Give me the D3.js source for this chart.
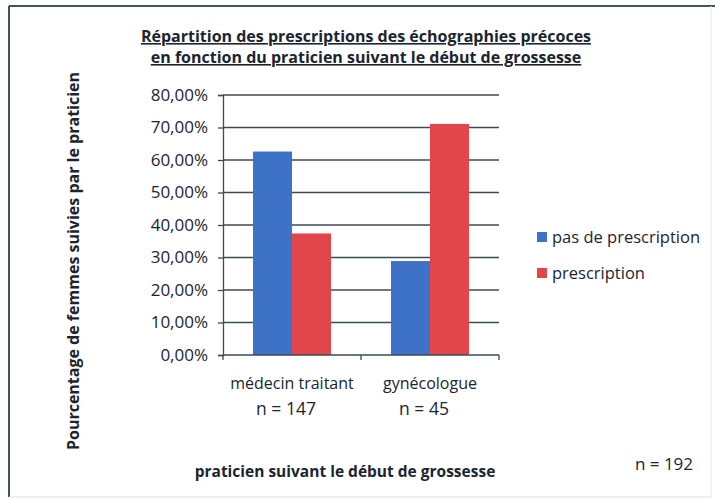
<!DOCTYPE html>
<html lang="fr">
<head>
	<meta charset="utf-8">
	<title>Répartition des prescriptions</title>
<style>
body {
	margin: 0;
	background: #fff;
}
text {
	font-family: "Open Sans", sans-serif;
	fill: #1b2530;
}
.title {
	font-size: 16px;
	font-weight: bold;
	text-decoration: underline;
}
.grid line {
	stroke: #3b4b57;
	stroke-width: 1.3px;
}
</style>
</head>
<body>
<div id="chart"></div>
<script src="https://d3js.org/d3.v7.min.js"></script>
<script>
	var categories = ["médecin traitant", "gynécologue"];
	var counts = ["n = 147", "n = 45"];
	var seriesNames = ["pas de prescription", "prescription"];
	var pasDePrescription = [62.6, 28.9];
	var prescription = [37.4, 71.1];
	var yTicks = [0, 10, 20, 30, 40, 50, 60, 70, 80];
	var colors = ["#3d72c6", "#e2464a"];

	var width = 715, height = 498;

	var svg = d3.select("#chart").append("svg")
		.attr("width", width)
		.attr("height", height);

	// frame
	svg.append("line").attr("x1", 9).attr("y1", 6).attr("x2", 9).attr("y2", 497)
		.attr("stroke", "#3e5560").attr("stroke-width", 2);
	svg.append("line").attr("x1", 9).attr("y1", 6).attr("x2", 715).attr("y2", 6)
		.attr("stroke", "#3e5560").attr("stroke-width", 2);
	svg.append("line").attr("x1", 711).attr("y1", 6).attr("x2", 711).attr("y2", 497)
		.attr("stroke", "#e4e4e4").attr("stroke-width", 1);
	svg.append("line").attr("x1", 9).attr("y1", 497).attr("x2", 711).attr("y2", 497)
		.attr("stroke", "#f0d8d0").attr("stroke-width", 1);

	// title
	svg.append("text").attr("class", "title").attr("x", 366).attr("y", 42)
		.attr("text-anchor", "middle")
		.text("Répartition des prescriptions des échographies  précoces ");
	svg.append("text").attr("class", "title").attr("x", 366).attr("y", 63)
		.attr("text-anchor", "middle")
		.text("en fonction du praticien suivant  le début de grossesse");

	var plotLeft = 223, plotRight = 499, plotTop = 95, plotBottom = 355;

	var y = d3.scaleLinear().domain([0, 80]).range([plotBottom, plotTop]);
	var x = d3.scaleBand().domain(categories).range([plotLeft, plotRight])
		.paddingInner(60 / 138).paddingOuter(30 / 138);
	var xs = d3.scaleBand().domain(seriesNames).range([0, x.bandwidth()]);

	// gridlines
	var grid = svg.append("g").attr("class", "grid");
	grid.selectAll("line").data(yTicks.slice(1)).enter().append("line")
		.attr("x1", plotLeft).attr("x2", plotRight)
		.attr("y1", function(d) { return y(d); })
		.attr("y2", function(d) { return y(d); });

	// y axis
	var yAxis = svg.append("g")
		.attr("transform", "translate(" + plotLeft + ",0)")
		.call(d3.axisLeft(y).tickValues(yTicks).tickSize(5).tickPadding(10)
			.tickFormat(function(d) { return d3.format(".2f")(d).replace(".", ",") + "%"; }));
	yAxis.select(".domain").attr("stroke", "#3b4b57").attr("stroke-width", 1.3);
	yAxis.selectAll(".tick line").attr("stroke", "#3b4b57").attr("stroke-width", 1.3);
	yAxis.selectAll("text").style("font-size", "17px").style("font-family", "'Open Sans', sans-serif").attr("fill", "#1b2530");

	// bars
	var data = categories.map(function(c, i) {
		return { cat: c, values: [pasDePrescription[i], prescription[i]] };
	});
	var groups = svg.selectAll(".group").data(data).enter().append("g")
		.attr("transform", function(d) { return "translate(" + x(d.cat) + ",0)"; });
	groups.selectAll("rect").data(function(d) { return d.values; }).enter().append("rect")
		.attr("x", function(d, i) { return xs(seriesNames[i]); })
		.attr("width", xs.bandwidth())
		.attr("y", function(d) { return y(d); })
		.attr("height", function(d) { return plotBottom - y(d); })
		.attr("fill", function(d, i) { return colors[i]; });

	// x axis line + boundary ticks
	svg.append("line").attr("x1", plotLeft).attr("x2", plotRight)
		.attr("y1", plotBottom).attr("y2", plotBottom)
		.attr("stroke", "#3b4b57").attr("stroke-width", 1.3);
	var bounds = [plotLeft].concat(categories.map(function(c) { return x(c) + x.bandwidth() + x.step() * x.paddingOuter(); }));
	svg.selectAll(".xtick").data(bounds).enter().append("line")
		.attr("x1", function(d) { return d; }).attr("x2", function(d) { return d; })
		.attr("y1", plotBottom).attr("y2", plotBottom + 5)
		.attr("stroke", "#3b4b57").attr("stroke-width", 1.3);

	// category labels
	svg.selectAll(".cat").data(categories).enter().append("text")
		.attr("x", function(d) { return x(d) + x.bandwidth() / 2; })
		.attr("y", 389)
		.attr("text-anchor", "middle")
		.style("font-size", "16px")
		.text(function(d) { return d; });
	svg.selectAll(".cnt").data(counts).enter().append("text")
		.attr("x", function(d, i) { return x(categories[i]) + x.bandwidth() / 2 - 6; })
		.attr("y", 415)
		.attr("text-anchor", "middle")
		.style("font-size", "17.5px")
		.text(function(d) { return d; });

	// legend
	var legend = svg.selectAll(".legend").data(seriesNames).enter().append("g")
		.attr("transform", function(d, i) { return "translate(537," + (232 + i * 36) + ")"; });
	legend.append("rect").attr("width", 10).attr("height", 10)
		.attr("fill", function(d, i) { return colors[i]; });
	legend.append("text").attr("x", 15).attr("y", 11)
		.style("font-size", "16.5px")
		.text(function(d) { return d; });

	// axis titles
	svg.append("text")
		.attr("transform", "translate(79,261) rotate(-90)")
		.attr("text-anchor", "middle")
		.style("font-size", "16px").style("font-weight", "bold")
		.text("Pourcentage de femmes suivies  par le praticien");
	svg.append("text").attr("x", 345).attr("y", 477)
		.attr("text-anchor", "middle")
		.style("font-size", "15.5px").style("font-weight", "bold")
		.text("praticien suivant  le début de grossesse");
	svg.append("text").attr("x", 664).attr("y", 470)
		.attr("text-anchor", "middle")
		.style("font-size", "17px")
		.text("n = 192");
</script>
</body>
</html>
